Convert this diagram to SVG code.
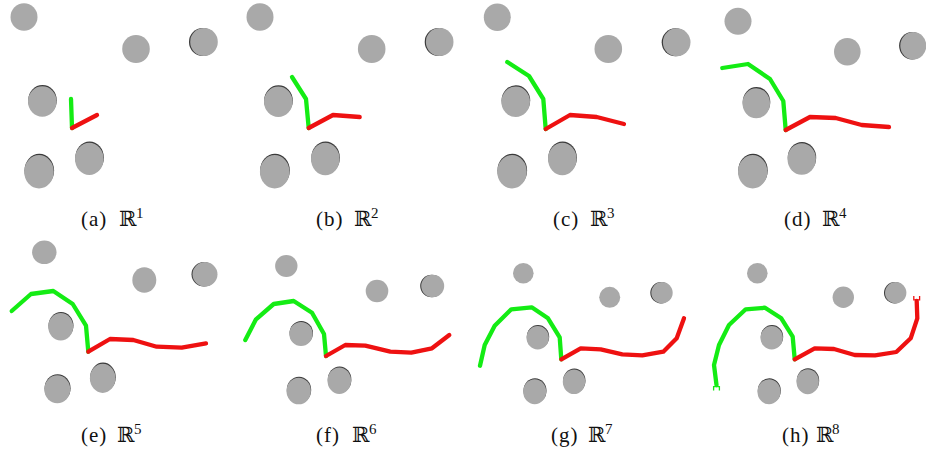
<svg xmlns="http://www.w3.org/2000/svg" width="926" height="452" viewBox="0 0 926 452">
<style>
.ob{fill:#a9a9a9}
.sh{fill:#3a3a3a}
.g{fill:none;stroke:#14ec14;stroke-width:4.3;stroke-linecap:round;stroke-linejoin:round}
.r{fill:none;stroke:#ee1111;stroke-width:4.3;stroke-linecap:round;stroke-linejoin:round}
.gt{fill:none;stroke:#14ec14;stroke-width:1.3}
.rt{fill:none;stroke:#ee1111;stroke-width:1.3}
.lbl{font-family:"Liberation Serif","DejaVu Serif",serif;font-size:21px;fill:#111}
.pl{letter-spacing:1px}
.sup{font-size:15px}
</style>
<rect width="926" height="452" fill="#ffffff"/>

<g id="panel-a">
<ellipse class="ob" cx="24" cy="17" rx="13.5" ry="13.8"/>
<ellipse class="ob" cx="136" cy="49" rx="13.8" ry="14"/>
<ellipse class="sh" cx="202.8" cy="42" rx="13.8" ry="14"/><ellipse class="ob" cx="204" cy="42" rx="13.8" ry="14"/>
<ellipse class="sh" cx="42.5" cy="100.3" rx="14.3" ry="15.3"/><ellipse class="ob" cx="42.3" cy="101.5" rx="14.3" ry="15.3"/>
<ellipse class="sh" cx="39.3" cy="170.5" rx="14.8" ry="16.7"/><ellipse class="ob" cx="39" cy="171.8" rx="14.8" ry="16.7"/>
<ellipse class="sh" cx="89.6" cy="157.6" rx="14.3" ry="16.2"/><ellipse class="ob" cx="89.3" cy="158.9" rx="14.3" ry="16.2"/>
<polyline class="g" points="71,99 72,128"/>
<polyline class="r" points="72,128 97,115"/>
</g>

<g id="panel-b">
<ellipse class="ob" cx="260" cy="17" rx="13.5" ry="13.8"/>
<ellipse class="ob" cx="371.7" cy="49" rx="13.8" ry="14"/>
<ellipse class="sh" cx="438.5" cy="42" rx="13.8" ry="14"/><ellipse class="ob" cx="439.7" cy="42" rx="13.8" ry="14"/>
<ellipse class="sh" cx="278.5" cy="100.5" rx="14.3" ry="15.3"/><ellipse class="ob" cx="278.3" cy="101.7" rx="14.3" ry="15.3"/>
<ellipse class="sh" cx="275" cy="170.4" rx="14.8" ry="16.7"/><ellipse class="ob" cx="274.7" cy="171.7" rx="14.8" ry="16.7"/>
<ellipse class="sh" cx="325.6" cy="157.7" rx="14.3" ry="16.2"/><ellipse class="ob" cx="325.3" cy="159" rx="14.3" ry="16.2"/>
<polyline class="g" points="292,77 306,99 308.7,128"/>
<polyline class="r" points="308.7,128 333,115 359.7,117"/>
</g>

<g id="panel-c">
<ellipse class="ob" cx="497.3" cy="17.3" rx="13.5" ry="13.8"/>
<ellipse class="ob" cx="608.3" cy="49" rx="13.8" ry="14"/>
<ellipse class="sh" cx="675.5" cy="42.3" rx="13.8" ry="14"/><ellipse class="ob" cx="676.7" cy="42.3" rx="13.8" ry="14"/>
<ellipse class="sh" cx="515.9" cy="100.5" rx="14.3" ry="15.3"/><ellipse class="ob" cx="515.7" cy="101.7" rx="14.3" ry="15.3"/>
<ellipse class="sh" cx="512.3" cy="170.4" rx="14.8" ry="16.7"/><ellipse class="ob" cx="512" cy="171.7" rx="14.8" ry="16.7"/>
<ellipse class="sh" cx="562.6" cy="157.7" rx="14.3" ry="16.2"/><ellipse class="ob" cx="562.3" cy="159" rx="14.3" ry="16.2"/>
<polyline class="g" points="507.3,62 529,76 543.3,99 545.7,129"/>
<polyline class="r" points="545.7,129 570,115 596.7,117 624,124"/>
</g>

<g id="panel-d">
<ellipse class="ob" cx="738" cy="21.3" rx="13.5" ry="13.5"/>
<ellipse class="ob" cx="847.3" cy="51.7" rx="13.3" ry="13.7"/>
<ellipse class="sh" cx="912.1" cy="45.7" rx="13" ry="13.7"/><ellipse class="ob" cx="913.3" cy="45.7" rx="13" ry="13.7"/>
<ellipse class="sh" cx="756.5" cy="102" rx="13.8" ry="15"/><ellipse class="ob" cx="756.3" cy="103.3" rx="13.8" ry="15"/>
<ellipse class="sh" cx="753" cy="170.4" rx="14.7" ry="16.7"/><ellipse class="ob" cx="752.7" cy="171.7" rx="14.7" ry="16.7"/>
<ellipse class="sh" cx="802" cy="157.7" rx="14.2" ry="15.8"/><ellipse class="ob" cx="801.7" cy="159" rx="14.2" ry="15.8"/>
<polyline class="g" points="722.3,68 748,64 770,79 783.3,101 785.7,130"/>
<polyline class="r" points="785.7,130 810,117 835.7,118 861.7,125 889,127"/>
</g>

<g id="panel-e">
<ellipse class="ob" cx="44.3" cy="252.3" rx="12.2" ry="11.8"/>
<ellipse class="ob" cx="144.3" cy="280" rx="12" ry="12.7"/>
<ellipse class="sh" cx="204" cy="274.3" rx="12.5" ry="12.2"/><ellipse class="ob" cx="205" cy="274.3" rx="12.5" ry="12.2"/>
<ellipse class="sh" cx="61" cy="325.6" rx="12.5" ry="13.7"/><ellipse class="ob" cx="60.7" cy="326.7" rx="12.5" ry="13.7"/>
<ellipse class="sh" cx="57.6" cy="388.2" rx="13" ry="14"/><ellipse class="ob" cx="57.3" cy="389.3" rx="13" ry="14"/>
<ellipse class="sh" cx="103" cy="377.2" rx="12.8" ry="14.6"/><ellipse class="ob" cx="102.7" cy="378.3" rx="12.8" ry="14.6"/>
<polyline class="g" points="11.7,311 31,294 53.3,291 72.7,304 86,325.7 88.3,351.7"/>
<polyline class="r" points="88.3,351.7 110,339 133.3,340 156.7,346.7 181.7,347.7 206,343.3"/>
</g>

<g id="panel-f">
<ellipse class="ob" cx="286.3" cy="266" rx="11.2" ry="11"/>
<ellipse class="ob" cx="377" cy="291" rx="11.3" ry="11.3"/>
<ellipse class="sh" cx="431.7" cy="286" rx="11.5" ry="11.3"/><ellipse class="ob" cx="432.7" cy="286" rx="11.5" ry="11.3"/>
<ellipse class="sh" cx="301.3" cy="333" rx="11.7" ry="12"/><ellipse class="ob" cx="301" cy="334" rx="11.7" ry="12"/>
<ellipse class="sh" cx="299" cy="390" rx="12.2" ry="13.3"/><ellipse class="ob" cx="298.7" cy="391" rx="12.2" ry="13.3"/>
<ellipse class="sh" cx="339.6" cy="379.7" rx="11.8" ry="13.3"/><ellipse class="ob" cx="339.3" cy="380.7" rx="11.8" ry="13.3"/>
<polyline class="g" points="245.3,340 256,319.3 273.7,304 293.7,301 312,312.7 324,334 326,356"/>
<polyline class="r" points="326,356 345.3,345 365.3,345.7 390.3,351.7 411.3,352.7 432,348.3 449.3,335"/>
</g>

<g id="panel-g">
<ellipse class="ob" cx="523.3" cy="273.3" rx="10.3" ry="10.3"/>
<ellipse class="ob" cx="609.7" cy="297.3" rx="10.5" ry="10.5"/>
<ellipse class="sh" cx="661" cy="292.7" rx="10.7" ry="10.7"/><ellipse class="ob" cx="662" cy="292.7" rx="10.7" ry="10.7"/>
<ellipse class="sh" cx="538" cy="336.7" rx="11.2" ry="11.7"/><ellipse class="ob" cx="537.7" cy="337.7" rx="11.2" ry="11.7"/>
<ellipse class="sh" cx="535" cy="390.7" rx="11.5" ry="12.5"/><ellipse class="ob" cx="534.7" cy="391.7" rx="11.5" ry="12.5"/>
<ellipse class="sh" cx="574.3" cy="380.7" rx="11.2" ry="12.3"/><ellipse class="ob" cx="574" cy="381.7" rx="11.2" ry="12.3"/>
<polyline class="g" points="480,365.7 484.7,345 494.7,325.7 511.3,309.3 531.7,307.3 548,318.3 559.7,337.3 561.3,359.3"/>
<polyline class="r" points="561.3,359.3 580.7,348.3 600.7,349.3 622.3,354.3 642.3,355.3 663.3,351.7 676.7,338.3 684,318.3"/>
</g>

<g id="panel-h">
<ellipse class="ob" cx="757.3" cy="273.3" rx="10.3" ry="10.3"/>
<ellipse class="ob" cx="843.3" cy="297.3" rx="10.7" ry="10.7"/>
<ellipse class="sh" cx="894.7" cy="292.7" rx="10.7" ry="10.7"/><ellipse class="ob" cx="895.7" cy="292.7" rx="10.7" ry="10.7"/>
<ellipse class="sh" cx="772" cy="336.7" rx="11.2" ry="11.7"/><ellipse class="ob" cx="771.7" cy="337.7" rx="11.2" ry="11.7"/>
<ellipse class="sh" cx="769.3" cy="390.7" rx="11.5" ry="12.5"/><ellipse class="ob" cx="769" cy="391.7" rx="11.5" ry="12.5"/>
<ellipse class="sh" cx="808" cy="380.7" rx="11.2" ry="12.5"/><ellipse class="ob" cx="807.7" cy="381.7" rx="11.2" ry="12.5"/>
<polyline class="g" points="716.5,385 714,365 719,345 729,325 745.7,309.3 765,307.7 781.3,318.3 792.7,336.7 794.7,359.3"/>
<path class="gt" d="M713.6,390.5 V386.6 H719.4 V390.5"/>
<polyline class="r" points="794.7,359.3 814.7,348.3 834,349 854.7,355 875,355.3 896.3,352 910.7,338.3 917.3,318.3 916.7,301"/>
<path class="rt" d="M913.8,296 V299.8 H919.6 V296"/>
</g>

<g id="labels">
<text class="lbl" x="81" y="226"><tspan class="pl">(a)</tspan><tspan x="119">ℝ</tspan><tspan class="sup" x="136" dy="-8">1</tspan></text>
<text class="lbl" x="316" y="226"><tspan class="pl">(b)</tspan><tspan x="354">ℝ</tspan><tspan class="sup" x="371" dy="-8">2</tspan></text>
<text class="lbl" x="553" y="226"><tspan class="pl">(c)</tspan><tspan x="590">ℝ</tspan><tspan class="sup" x="607" dy="-8">3</tspan></text>
<text class="lbl" x="784" y="226"><tspan class="pl">(d)</tspan><tspan x="822">ℝ</tspan><tspan class="sup" x="839" dy="-8">4</tspan></text>
<text class="lbl" x="81" y="442"><tspan class="pl">(e)</tspan><tspan x="117">ℝ</tspan><tspan class="sup" x="134" dy="-8">5</tspan></text>
<text class="lbl" x="316" y="442"><tspan class="pl">(f)</tspan><tspan x="352">ℝ</tspan><tspan class="sup" x="369" dy="-8">6</tspan></text>
<text class="lbl" x="551" y="442"><tspan class="pl">(g)</tspan><tspan x="588">ℝ</tspan><tspan class="sup" x="605" dy="-8">7</tspan></text>
<text class="lbl" x="782" y="442"><tspan class="pl">(h)</tspan><tspan x="816">ℝ</tspan><tspan class="sup" x="832" dy="-8">8</tspan></text>
</g>
</svg>
